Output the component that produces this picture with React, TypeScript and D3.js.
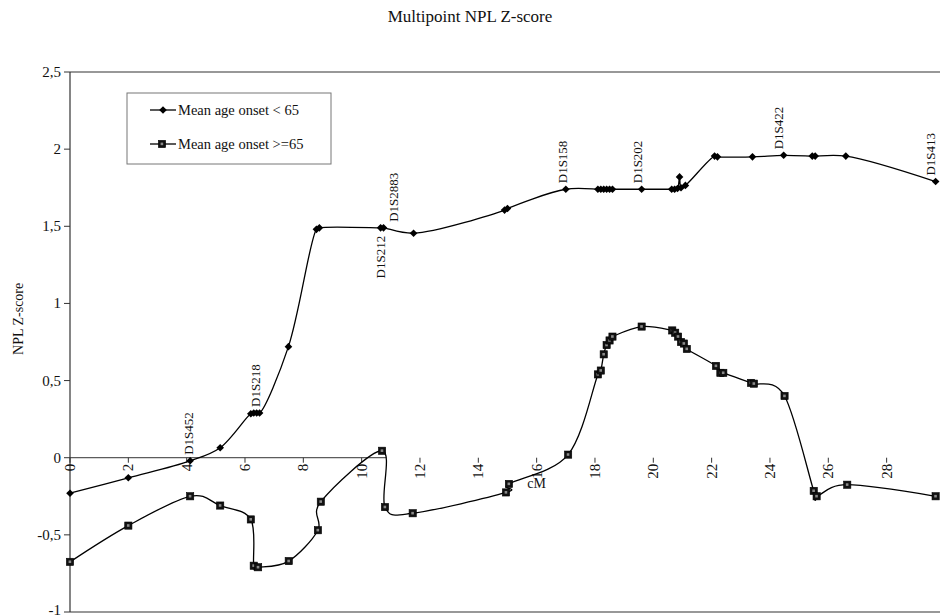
import React from "react";
import * as d3 from "d3";

const chartTitle = "Multipoint NPL Z-score";
const yTitle = "NPL Z-score";
const xTitle = "cM";

const yTicks = [-1, -0.5, 0, 0.5, 1, 1.5, 2, 2.5];
const xTicks = [0, 2, 4, 6, 8, 10, 12, 14, 16, 18, 20, 22, 24, 26, 28];

const seriesNames = ["Mean age onset < 65", "Mean age onset >=65"];

const earlyCm = [0, 2, 4.12, 5.15, 6.2, 6.3, 6.4, 6.5, 7.49, 8.45, 8.55, 10.65, 10.75, 11.78, 14.9, 15.0, 17.0, 18.1, 18.2, 18.3, 18.4, 18.5, 18.6, 19.6, 20.63, 20.73, 20.83, 20.9, 20.95, 21.1, 22.1, 22.2, 23.4, 24.47, 25.45, 25.55, 26.6, 29.68];
const earlyZ = [-0.23, -0.13, -0.02, 0.065, 0.285, 0.29, 0.29, 0.29, 0.72, 1.48, 1.49, 1.49, 1.49, 1.455, 1.605, 1.615, 1.74, 1.74, 1.74, 1.74, 1.74, 1.74, 1.74, 1.74, 1.74, 1.74, 1.745, 1.82, 1.75, 1.765, 1.955, 1.95, 1.95, 1.96, 1.955, 1.955, 1.955, 1.79];

const lateCm = [0, 2, 4.12, 5.15, 6.2, 6.3, 6.45, 7.5, 8.5, 8.6, 10.7, 10.8, 11.75, 14.95, 15.05, 17.08, 18.1, 18.2, 18.3, 18.4, 18.5, 18.6, 19.6, 20.65, 20.75, 20.85, 20.95, 21.05, 21.15, 22.15, 22.3, 22.4, 23.35, 23.45, 24.5, 25.5, 25.6, 26.65, 29.68];
const lateZ = [-0.675, -0.44, -0.25, -0.31, -0.4, -0.7, -0.71, -0.67, -0.47, -0.285, 0.045, -0.32, -0.36, -0.225, -0.17, 0.02, 0.54, 0.565, 0.67, 0.73, 0.76, 0.785, 0.85, 0.825, 0.81, 0.785, 0.75, 0.74, 0.705, 0.595, 0.55, 0.55, 0.485, 0.48, 0.4, -0.215, -0.25, -0.175, -0.25];

const markerNames = ["D1S452", "D1S218", "D1S212", "D1S2883", "D1S158", "D1S202", "D1S422", "D1S413"];
const markerCm = [4.05, 6.35, 10.65, 11.1, 16.9, 19.45, 24.3, 29.5];
const markerZ = [-0.02, 0.29, 1.49, 1.49, 1.74, 1.74, 1.96, 1.79];
const markerBelow = [false, false, true, false, false, false, false, false];

const W = 940;
const H = 615;
const FONT = "'Liberation Serif', 'Times New Roman', serif";

export default function App() {
  const x = d3.scaleLinear().domain([0, 29.83]).range([70, 940]);
  const y = d3.scaleLinear().domain([-1, 2.5]).range([612, 72]);

  const lineEarly = d3
    .line<[number, number]>()
    .x((d) => x(d[0]))
    .y((d) => y(d[1]))
    .curve(d3.curveCatmullRom.alpha(0.5));

  const lineLate = d3
    .line<[number, number]>()
    .x((d) => x(d[0]))
    .y((d) => y(d[1]))
    .curve(d3.curveCardinal.tension(0));

  const early: [number, number][] = earlyCm.map((c, i) => [c, earlyZ[i]]);
  const late: [number, number][] = lateCm.map((c, i) => [c, lateZ[i]]);

  const fmt = (v: number) => String(v).replace(".", ",");

  const diamond = (cx: number, cy: number, r = 3.8) =>
    `M${cx},${cy - r}L${cx + r},${cy}L${cx},${cy + r}L${cx - r},${cy}Z`;

  const square = (cx: number, cy: number, key: string | number) => (
    <g key={key}>
      <rect x={cx - 3.6} y={cy - 3.6} width={7.2} height={7.2} fill="#111" stroke="#000" strokeWidth={0.6} />
      <rect x={cx - 1.4} y={cy - 1.4} width={2.6} height={2.6} fill="#8a8a8a" />
    </g>
  );

  return (
    <svg
      width={W}
      height={H}
      style={{ position: "absolute", left: 0, top: 0, background: "#fff" }}
      fontFamily={FONT}
    >
      <rect x={0} y={0} width={W} height={H} fill="#fff" />
      {/* title */}
      <text x={470} y={22} textAnchor="middle" fontSize={17} fill="#111">
        {chartTitle}
      </text>

      {/* frame */}
      <line x1={70} x2={940} y1={y(2.5)} y2={y(2.5)} stroke="#333" strokeWidth={1.2} />
      <line x1={70} x2={940} y1={y(-1)} y2={y(-1)} stroke="#333" strokeWidth={1.2} />
      <line x1={70} x2={70} y1={y(2.5)} y2={y(-1)} stroke="#333" strokeWidth={1.2} />

      {/* y ticks */}
      {yTicks.map((t) => (
        <g key={t}>
          <line x1={64} x2={70} y1={y(t)} y2={y(t)} stroke="#333" />
          <text
            x={61}
            y={t === -1 ? y(t) - 2 : y(t)}
            textAnchor="end"
            dominantBaseline="central"
            fontSize={15}
            fill="#111"
          >
            {fmt(t)}
          </text>
        </g>
      ))}
      <text
        transform={`translate(18,${y(0.9)}) rotate(-90)`}
        textAnchor="middle"
        dominantBaseline="central"
        fontSize={14}
        fill="#111"
      >
        {yTitle}
      </text>

      {/* zero axis */}
      <line x1={x(0)} x2={x(10.85)} y1={y(0)} y2={y(0)} stroke="#333" strokeWidth={1} />
      {xTicks.map((t) => (
        <g key={t}>
          <line x1={x(t)} x2={x(t)} y1={y(0)} y2={y(0) + 5} stroke="#333" />
          <text
            transform={`translate(${x(t)},${y(0) + 6}) rotate(-90)`}
            textAnchor="end"
            dominantBaseline="central"
            fontSize={15}
            fill="#111"
          >
            {t}
          </text>
        </g>
      ))}
      <text x={x(16.0)} y={y(-0.17)} textAnchor="middle" dominantBaseline="central" fontSize={14} fill="#111">
        {xTitle}
      </text>

      {/* series lines */}
      <path d={lineEarly(early) || ""} fill="none" stroke="#000" strokeWidth={1.3} />
      <path d={lineLate(late) || ""} fill="none" stroke="#000" strokeWidth={1.3} />

      {/* markers */}
      {early.map((d, i) => (
        <path key={`e${i}`} d={diamond(x(d[0]), y(d[1]))} fill="#000" />
      ))}
      {late.map((d, i) => square(x(d[0]), y(d[1]), `l${i}`))}

      {/* marker labels */}
      {markerNames.map((n, i) => {
        const px = x(markerCm[i]);
        const py = y(markerZ[i]);
        return markerBelow[i] ? (
          <text
            key={n}
            transform={`translate(${px},${py + 8}) rotate(-90)`}
            textAnchor="end"
            dominantBaseline="central"
            fontSize={13}
            fill="#111"
          >
            {n}
          </text>
        ) : (
          <text
            key={n}
            transform={`translate(${px},${py - 6}) rotate(-90)`}
            textAnchor="start"
            dominantBaseline="central"
            fontSize={13}
            fill="#111"
          >
            {n}
          </text>
        );
      })}

      {/* legend */}
      <rect x={127} y={93} width={204} height={71} fill="#fff" stroke="#777" strokeWidth={1} />
      <line x1={150} x2={176} y1={110} y2={110} stroke="#000" strokeWidth={1.3} />
      <path d={diamond(163, 110)} fill="#000" />
      <text x={178} y={110} dominantBaseline="central" fontSize={14.5} fill="#111">
        {seriesNames[0]}
      </text>
      <line x1={150} x2={176} y1={144} y2={144} stroke="#000" strokeWidth={1.3} />
      {square(162, 144, "lg")}
      <text x={178} y={144} dominantBaseline="central" fontSize={14.5} fill="#111">
        {seriesNames[1]}
      </text>
    </svg>
  );
}
